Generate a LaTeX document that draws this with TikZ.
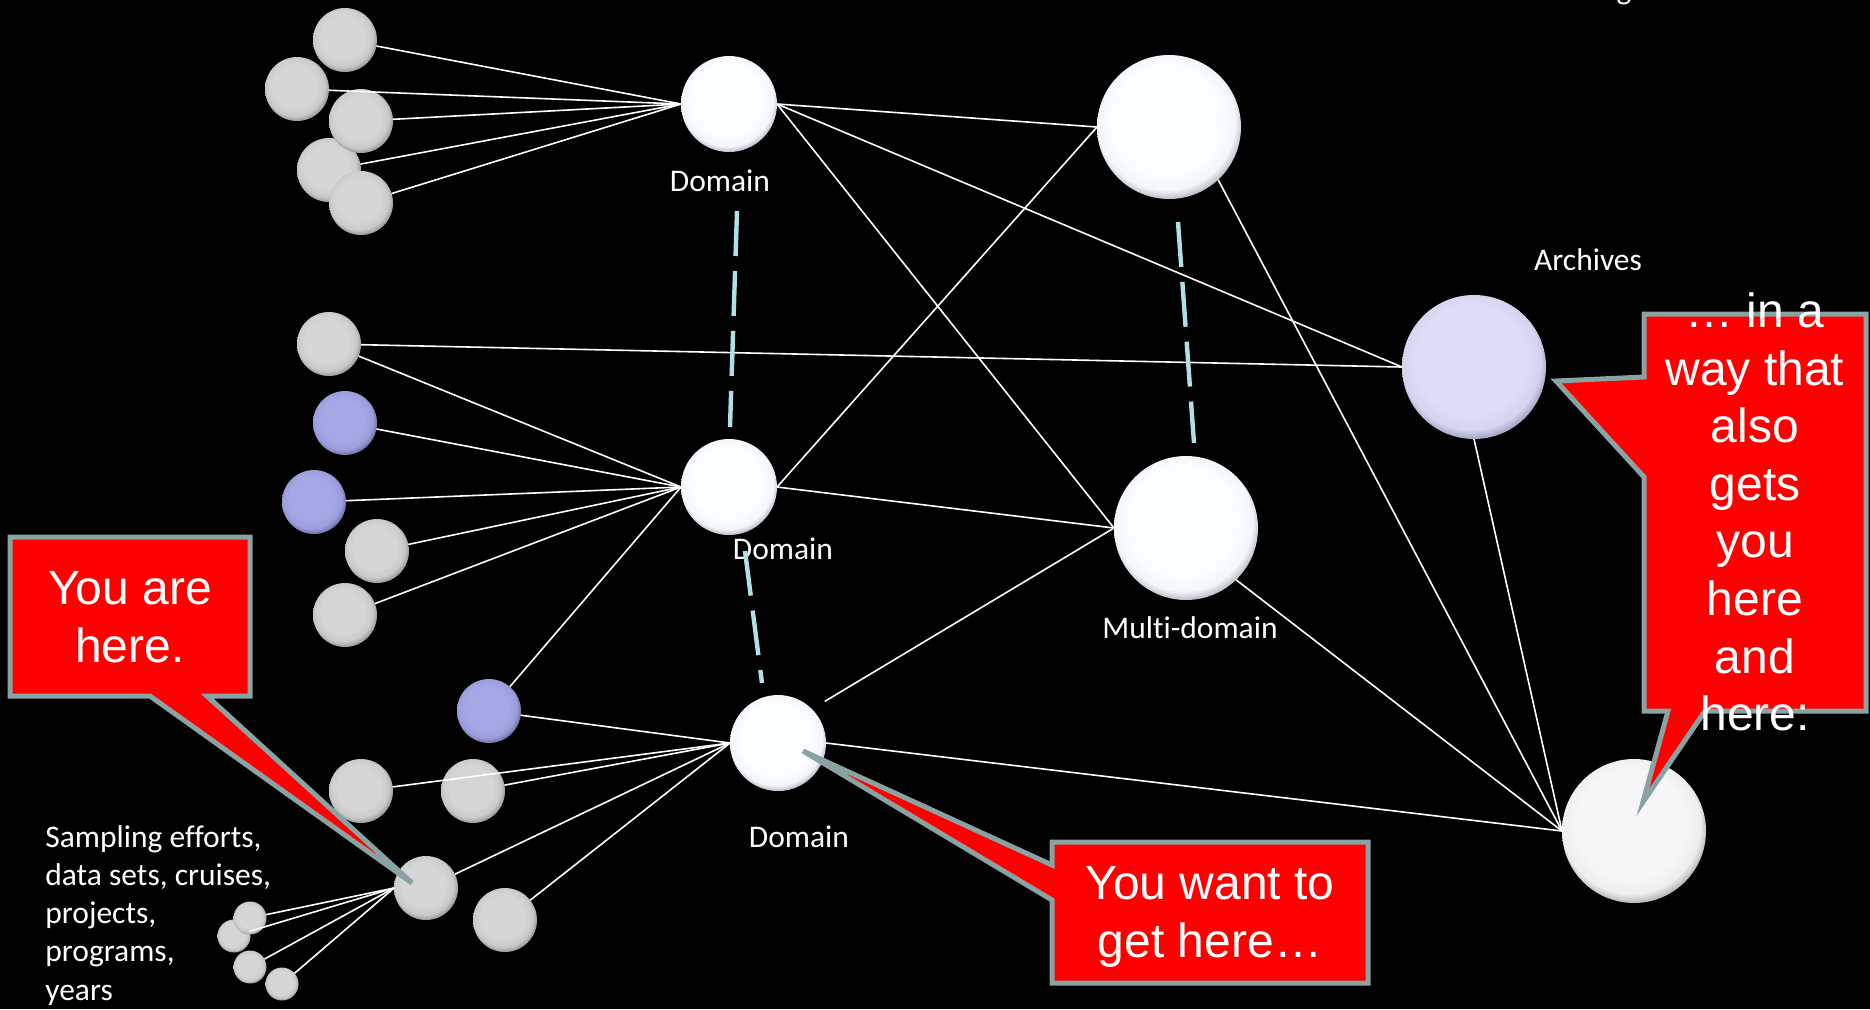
\documentclass[tikz,border=0pt]{standalone}
\usepackage{fontspec}
\setmainfont{Carlito}[Ligatures=NoCommon]
\newfontfamily\calloutfont{Liberation Sans}
\usetikzlibrary{calc}
\definecolor{sgA}{RGB}{214,214,214}
\definecolor{sgB}{RGB}{202,202,202}
\definecolor{sgC}{RGB}{150,150,150}
\definecolor{sgD}{RGB}{80,80,80}
\definecolor{sbA}{RGB}{166,168,229}
\definecolor{sbB}{RGB}{156,158,220}
\definecolor{sbC}{RGB}{110,112,170}
\definecolor{sbD}{RGB}{60,60,100}
\definecolor{swA}{RGB}{251,253,255}
\definecolor{swB}{RGB}{243,246,250}
\definecolor{swC}{RGB}{185,187,195}
\definecolor{swD}{RGB}{110,110,115}
\definecolor{saA}{RGB}{221,221,247}
\definecolor{saB}{RGB}{212,212,240}
\definecolor{saC}{RGB}{160,160,195}
\definecolor{saD}{RGB}{90,90,120}
\definecolor{srA}{RGB}{246,246,246}
\definecolor{srB}{RGB}{238,238,238}
\definecolor{srC}{RGB}{178,178,178}
\definecolor{srD}{RGB}{100,100,100}
\definecolor{dashblue}{RGB}{176,224,230}
\definecolor{calred}{RGB}{255,0,0}
\definecolor{calborder}{RGB}{137,162,163}
\pgfdeclareradialshading{shgray}{\pgfpoint{-3bp}{4bp}}{color(0bp)=(sgA); color(17bp)=(sgA); color(23bp)=(sgB); color(27bp)=(sgC); color(31bp)=(sgD); color(50bp)=(sgD)}
\pgfdeclareradialshading{shblue}{\pgfpoint{-3bp}{4bp}}{color(0bp)=(sbA); color(17bp)=(sbA); color(23bp)=(sbB); color(27bp)=(sbC); color(31bp)=(sbD); color(50bp)=(sbD)}
\pgfdeclareradialshading{shwhite}{\pgfpoint{-2bp}{4bp}}{color(0bp)=(swA); color(19bp)=(swA); color(24bp)=(swB); color(27bp)=(swC); color(31bp)=(swD); color(50bp)=(swD)}
\pgfdeclareradialshading{sharch}{\pgfpoint{-2bp}{4bp}}{color(0bp)=(saA); color(19bp)=(saA); color(24bp)=(saB); color(27bp)=(saC); color(31bp)=(saD); color(50bp)=(saD)}
\pgfdeclareradialshading{shbr}{\pgfpoint{-2bp}{4bp}}{color(0bp)=(srA); color(19bp)=(srA); color(24bp)=(srB); color(27bp)=(srC); color(31bp)=(srD); color(50bp)=(srD)}
\begin{document}
\begin{tikzpicture}[x=0.5pt,y=-0.5pt,
  sph/.style={circle, inner sep=0pt, outer sep=0pt},
  gsph/.style={sph, minimum size=32pt, shading=shgray},
  bsph/.style={sph, minimum size=32pt, shading=shblue},
  ssph/.style={sph, minimum size=16.5pt, shading=shgray},
  dsph/.style={sph, minimum size=48pt, shading=shwhite},
  bigsph/.style={sph, minimum size=72pt, shading=shwhite},
  archsph/.style={sph, minimum size=72pt, shading=sharch},
  brsph/.style={sph, minimum size=72pt, shading=shbr},
  conn/.style={draw=white, line width=0.8pt},
  dashconn/.style={draw=dashblue, line width=2.2pt, dash pattern=on 22.5pt off 7.5pt},
  lbl/.style={text=white, inner sep=0pt, font=\fontsize{15.75pt}{19.1pt}\selectfont},
  callout/.style={fill=calred, draw=calborder, line width=2.5pt, line join=miter},
  ctext/.style={text=white, align=center, inner sep=0pt, font=\calloutfont\fontsize{24pt}{28.8pt}\selectfont}]
\path[use as bounding box, fill=black] (0,0) rectangle (1870,1009);

% spheres: top cluster
\node[gsph] (t1) at (345,40) {};
\node[gsph] (t2) at (297,89) {};
\node[gsph] (t4) at (329,170) {};
\node[gsph] (t3) at (361,121) {};
\node[gsph] (t5) at (361,203) {};
\node[dsph] (d1) at (729,104) {};
\node[bigsph] (mtop) at (1169,127) {};
% middle cluster
\node[gsph] (m1) at (329,344) {};
\node[bsph] (m2) at (345,423) {};
\node[bsph] (m3) at (314,502) {};
\node[gsph] (m4) at (377,551) {};
\node[gsph] (m5) at (345,615) {};
\node[dsph] (d2) at (729,487) {};
\node[bigsph] (md) at (1186,528) {};
\node[archsph] (arch) at (1474,367) {};
% bottom cluster
\node[bsph] (l1) at (489,711) {};
\node[gsph] (l2) at (361,791) {};
\node[gsph] (l3) at (473,791) {};
\node[gsph] (l4) at (426,888) {};
\node[gsph] (l5) at (505,920) {};
\node[ssph] (s2) at (234,936) {};
\node[ssph] (s1) at (250,918) {};
\node[ssph] (s3) at (250,967) {};
\node[ssph] (s4) at (282,984) {};
\node[dsph] (d3) at (778,743) {};
\node[brsph] (br) at (1634,831) {};

% connectors
\foreach \n in {t1,t2,t3,t4,t5} \draw[conn] (\n) -- (d1.west);
\foreach \n in {m1,m2,m3,m4,m5,l1} \draw[conn] (\n) -- (d2.west);
\foreach \n in {l1,l2,l3,l4,l5} \draw[conn] (\n) -- (d3.west);
\foreach \n in {s1,s2,s3,s4} \draw[conn] (\n) -- (l4.west);
\draw[conn] (m1) -- (arch.west);
\draw[conn] (d1.east) -- (mtop.west);
\draw[conn] (d1.east) -- (md.west);
\draw[conn] (d1.east) -- (arch.west);
\draw[conn] (d2.east) -- (mtop.west);
\draw[conn] (d2.east) -- (md.west);
\draw[conn, shorten <=7.5pt] (d3.45) -- (md.west);
\draw[conn] (d3.east) -- (br.west);
\draw[conn] (mtop.-47) -- (br.west);
\draw[conn] (md.-46) -- (br.west);
\draw[conn] (arch.south) -- (br.west);

% labels
\node[lbl] (ld1) at (720,181) {Domain};
\node[lbl] (ld2) at (783,549) {Domain};
\node[lbl] (ld3) at (799,837) {Domain};
\node[lbl] (lmd) at (1190,628) {Multi-domain};
\node[lbl] (larch) at (1588,260) {Archives};
\node[lbl, anchor=north west, align=left] (lsamp) at (45,825) {Sampling efforts,\\data sets, cruises,\\projects,\\programs,\\years};
\node[lbl, anchor=base] (lg) at (1624,-1) {g};

% dashed links
\coordinate (dA1) at (737,211); \coordinate (dA2) at (730,427);
\coordinate (dB1) at (745,551); \coordinate (dB2) at (762,683);
\coordinate (dC1) at (1178,222); \coordinate (dC2) at (1194,443);
\draw[dashconn] (dA1) -- (dA2);
\draw[dashconn] (dB1) -- (dB2);
\draw[dashconn] (dC1) -- (dC2);

% callouts
\draw[callout] (10,537) -- (250,537) -- (250,696) -- (207,696) -- (412,883) -- (150,696) -- (10,696) -- cycle;
\node[ctext] (c1) at (130,617) {You are\\here.};
\draw[callout] (1052,842) -- (1368,842) -- (1368,983) -- (1052,983) -- (1052,900) -- (803,751) -- (1052,865) -- cycle;
\node[ctext] (c2) at (1210,917) {You want to\\get here…};
\draw[callout] (1644,314) -- (1866,314) -- (1866,711) -- (1705,711) -- (1643,802) -- (1668,711) -- (1644,711) -- (1644,477) -- (1556,381) -- (1644,377) -- cycle;
\node[ctext] (c3) at (1755,512) {… in a\\way that\\also\\gets\\you\\here\\and\\here:};
\end{tikzpicture}
\end{document}
